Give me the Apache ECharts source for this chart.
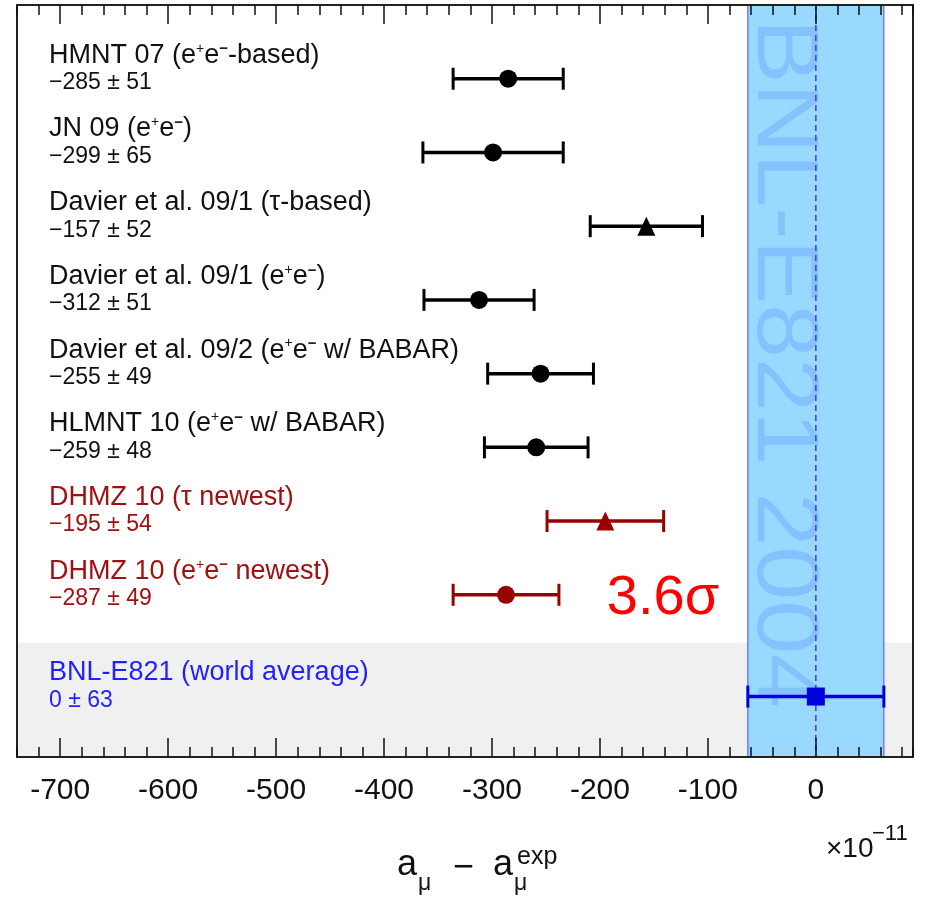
<!DOCTYPE html>
<html><head><meta charset="utf-8">
<script src="https://cdn.jsdelivr.net/npm/echarts@6/dist/echarts.min.js"></script>
<style>html,body{margin:0;padding:0;background:#fff}#c{width:927px;height:903px}</style>
</head><body><div id="c"></div>
<script>
// ---- data ----
const names = [
  'HMNT 07 (e{sp|+}e{sm|−}-based)',
  'JN 09 (e{sp|+}e{sm|−})',
  'Davier et al. 09/1 (τ-based)',
  'Davier et al. 09/1 (e{sp|+}e{sm|−})',
  'Davier et al. 09/2 (e{sp|+}e{sm|−} w/ BABAR)',
  'HLMNT 10 (e{sp|+}e{sm|−} w/ BABAR)',
  'DHMZ 10 (τ newest)',
  'DHMZ 10 (e{sp|+}e{sm|−} newest)',
  'BNL-E821 (world average)'
];
const values = [-285, -299, -157, -312, -255, -259, -195, -287, 0];
const errors = [51, 65, 52, 51, 49, 48, 54, 49, 63];
const markers = ['circle', 'circle', 'triangle', 'circle', 'circle', 'circle', 'triangle', 'circle', 'rect'];
const groups = ['old', 'old', 'old', 'old', 'old', 'old', 'new', 'new', 'exp'];
const xTicks = [-700, -600, -500, -400, -300, -200, -100, 0];
const xTickLabels = ['-700', '-600', '-500', '-400', '-300', '-200', '-100', '0'];
const watermark = 'BNL-E821 2004';
const sigmaText = '3.6σ';

// ---- style ----
const FONT = '"Liberation Sans", Arial, Helvetica, sans-serif';
const barColor = { old: '#000000', new: '#990000', exp: '#0000dd' };
const textColor = { old: '#111111', new: '#a01010', exp: '#1f1fff' };
const rowOf = i => (i < 8 ? i + 1 : 9.38);
const Y_MAX = 10.2, GREY_TOP = 8.65;

const fmtVal = (v, e) => (v < 0 ? '−' : '') + Math.abs(v) + ' ± ' + e;
const rows = values.map((v, i) => [v, errors[i], rowOf(i)]);

const chart = echarts.init(document.getElementById('c'), null, { renderer: 'canvas' });

const axisBase = (pos, major, labels) => ({
  type: 'value', position: pos, min: -740, max: 90, z: 10,
  interval: major ? undefined : 20,
  axisLine: { show: major, onZero: false, lineStyle: { color: '#222', width: 2 } },
  axisTick: major
    ? { show: true, inside: true, length: 19, customValues: xTicks, lineStyle: { color: '#111', width: 1.5 } }
    : { show: true, inside: true, length: 10, lineStyle: { color: '#111', width: 1.5 } },
  axisLabel: labels
    ? { show: true, customValues: xTicks, formatter: v => xTickLabels[xTicks.indexOf(v)],
        margin: 19, fontSize: 30, fontFamily: FONT, color: '#111' }
    : { show: false },
  splitLine: { show: false }
});

const yBase = pos => ({
  type: 'value', position: pos, min: 0, max: Y_MAX, inverse: true, z: 10,
  axisLine: { show: true, onZero: false, lineStyle: { color: '#222', width: 2 } },
  axisTick: { show: false }, axisLabel: { show: false }, splitLine: { show: false }
});

const option = {
  backgroundColor: '#ffffff',
  animation: false,
  grid: { left: 17, right: 14, top: 5, bottom: 146, containLabel: false, outerBoundsMode: 'none' },
  xAxis: [axisBase('bottom', true, true), axisBase('top', true, false), axisBase('bottom', false, false), axisBase('top', false, false)],
  yAxis: [yBase('left'), yBase('right')],
  series: [
    {
      type: 'custom', z: 1, silent: true,
      data: [[values[8], errors[8]]],
      renderItem(params, api) {
        const cs = params.coordSys;
        const v = api.value(0), e = api.value(1);
        const xl = api.coord([v - e, 0])[0], xr = api.coord([v + e, 0])[0], xc = api.coord([v, 0])[0];
        const yTop = cs.y, yBot = cs.y + cs.height;
        const gTop = api.coord([0, GREY_TOP])[1];
        return { type: 'group', children: [
          { type: 'rect', shape: { x: cs.x, y: gTop, width: cs.width, height: yBot - gTop }, style: { fill: '#f0f0f0' } },
          { type: 'rect', shape: { x: xl, y: yTop, width: xr - xl, height: cs.height }, style: { fill: '#99d9ff' } },
          { type: 'text', x: (xl + xc) / 2, y: yTop + 14, rotation: -Math.PI / 2, scaleX: 1.1,
            style: { text: watermark, fill: '#84c2ff', font: '88px ' + FONT, align: 'left', verticalAlign: 'middle' } },
          { type: 'line', shape: { x1: xl, y1: yTop, x2: xl, y2: yBot }, style: { stroke: '#6262ff', lineWidth: 1.2 } },
          { type: 'line', shape: { x1: xr, y1: yTop, x2: xr, y2: yBot }, style: { stroke: '#6262ff', lineWidth: 1.2 } },
          { type: 'line', shape: { x1: xc, y1: yTop, x2: xc, y2: yBot }, style: { stroke: '#3a3aff', lineWidth: 1.5, lineDash: [6, 4] } }
        ] };
      }
    },
    {
      type: 'custom', z: 3, silent: true,
      data: rows,
      renderItem(params, api) {
        const i = params.dataIndex;
        const v = api.value(0), e = api.value(1), r = api.value(2);
        const p0 = api.coord([v - e, r]), p1 = api.coord([v + e, r]);
        const col = barColor[groups[i]];
        const h = 11;
        return { type: 'group', children: [
          { type: 'line', shape: { x1: p0[0], y1: p0[1], x2: p1[0], y2: p1[1] }, style: { stroke: col, lineWidth: 3.5 } },
          { type: 'line', shape: { x1: p0[0], y1: p0[1] - h, x2: p0[0], y2: p0[1] + h }, style: { stroke: col, lineWidth: 3 } },
          { type: 'line', shape: { x1: p1[0], y1: p1[1] - h, x2: p1[0], y2: p1[1] + h }, style: { stroke: col, lineWidth: 3 } }
        ] };
      }
    },
    {
      type: 'scatter', z: 4, silent: true,
      data: values.map((v, i) => ({
        value: [v, rowOf(i)], symbol: markers[i],
        symbolSize: markers[i] === 'triangle' ? [18, 19] : 18,
        itemStyle: { color: barColor[groups[i]], opacity: 1 }
      }))
    },
    {
      type: 'custom', z: 5, silent: true,
      data: rows,
      renderItem(params, api) {
        const i = params.dataIndex;
        const cs = params.coordSys;
        const y = api.coord([0, api.value(2)])[1];
        const x = cs.x + 32;
        const col = textColor[groups[i]];
        return { type: 'group', children: [
          { type: 'text', x: x, y: y - 23.5,
            style: { text: names[i], fill: col, font: '27px ' + FONT, align: 'left', verticalAlign: 'middle',
              rich: {
                sp: { fontSize: 14, fontFamily: FONT, verticalAlign: 'top', fill: col },
                sm: { fontSize: 15, fontFamily: FONT, fontWeight: 'bold', verticalAlign: 'top', fill: col }
              } } },
          { type: 'text', x: x, y: y + 4,
            style: { text: fmtVal(api.value(0), api.value(1)), fill: col, font: '23px ' + FONT, align: 'left', verticalAlign: 'middle' } }
        ] };
      }
    }
  ],
  graphic: [
    { type: 'text', x: 663, y: 599, z: 20, style: { text: sigmaText, fill: '#ff0000', font: '56px ' + FONT, align: 'center', verticalAlign: 'middle' } },
    { type: 'text', x: 397, y: 865, style: { text: 'a', fill: '#111', font: '36px ' + FONT, align: 'left', verticalAlign: 'middle' } },
    { type: 'text', x: 418, y: 884, style: { text: 'μ', fill: '#111', font: '23px ' + FONT, align: 'left', verticalAlign: 'middle' } },
    { type: 'text', x: 453, y: 868, style: { text: '−', fill: '#111', font: '36px ' + FONT, align: 'left', verticalAlign: 'middle' } },
    { type: 'text', x: 493, y: 865, style: { text: 'a', fill: '#111', font: '36px ' + FONT, align: 'left', verticalAlign: 'middle' } },
    { type: 'text', x: 514, y: 884, style: { text: 'μ', fill: '#111', font: '23px ' + FONT, align: 'left', verticalAlign: 'middle' } },
    { type: 'text', x: 517, y: 857, style: { text: 'exp', fill: '#111', font: '25px ' + FONT, align: 'left', verticalAlign: 'middle' } },
    { type: 'text', x: 826, y: 849, style: { text: '×10', fill: '#111', font: '28px ' + FONT, align: 'left', verticalAlign: 'middle' } },
    { type: 'text', x: 872, y: 834, style: { text: '−11', fill: '#111', font: '22px ' + FONT, align: 'left', verticalAlign: 'middle' } }
  ]
};
chart.setOption(option);
</script>
</body></html>
